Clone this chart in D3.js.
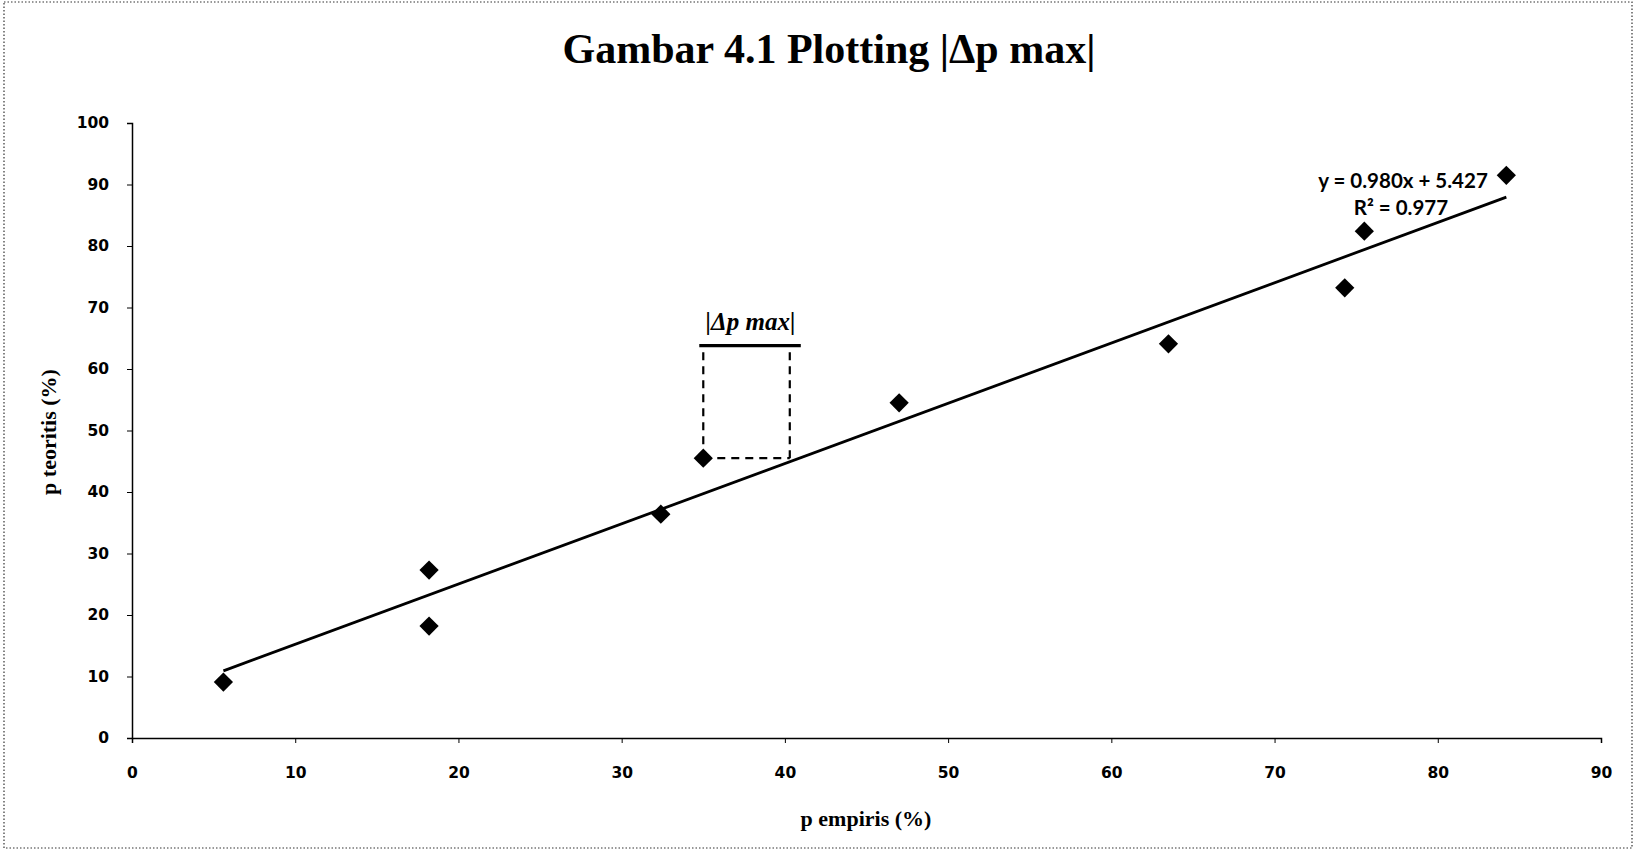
<!DOCTYPE html>
<html>
<head>
<meta charset="utf-8">
<script src="https://cdn.jsdelivr.net/npm/d3@7"></script>
<style>
  body { margin: 0; background: #fff; }
  svg { display: block; }
</style>
</head>
<body>
<div id="chart"></div>
<script>
// data
var pEmpiris = [5.6, 18.2, 18.2, 32.4, 35.0, 47.0, 63.5, 74.3, 75.5, 84.2];
var pTeoritis = [9.1, 27.3, 18.2, 36.4, 45.5, 54.5, 64.1, 73.2, 82.4, 91.5];
var xTicks = [0, 10, 20, 30, 40, 50, 60, 70, 80, 90];
var yTicks = [0, 10, 20, 30, 40, 50, 60, 70, 80, 90, 100];
var trendSlope = 0.980, trendIntercept = 5.427, rSquared = 0.977;
var deltaX = [35.0, 40.3];     // ends of the |Δp max| bracket
var deltaY = [45.5, 63.8];     // bottom (point) and top of bracket

var width = 1635, height = 852;
var margin = {top: 123, right: 34, bottom: 114, left: 132};

var svg = d3.select("#chart").append("svg")
    .attr("width", width)
    .attr("height", height);

// dotted frame
svg.append("rect")
    .attr("x", 4).attr("y", 2)
    .attr("width", width - 7).attr("height", height - 6)
    .attr("fill", "none")
    .attr("stroke", "#333")
    .attr("stroke-width", 1.2)
    .attr("stroke-dasharray", "1.5,2");

var x = d3.scaleLinear().domain([0, 90]).range([margin.left, width - margin.right]);
var y = d3.scaleLinear().domain([0, 100]).range([height - margin.bottom, margin.top]);

// title
svg.append("text")
    .attr("x", 829).attr("y", 63)
    .attr("text-anchor", "middle")
    .style("font-family", "'Liberation Serif', 'Times New Roman', serif")
    .style("font-weight", "bold")
    .style("font-size", "42px")
    .text("Gambar 4.1 Plotting |\u0394p max|");

// axes
var xAxis = svg.append("g")
    .attr("transform", "translate(0," + y(0) + ")")
    .call(d3.axisBottom(x).tickValues(xTicks).tickSize(5).tickPadding(24));
var yAxis = svg.append("g")
    .attr("transform", "translate(" + x(0) + ",0)")
    .call(d3.axisLeft(y).tickValues(yTicks).tickSize(5).tickPadding(18));

[xAxis, yAxis].forEach(function(g) {
    g.select(".domain").attr("stroke", "#000").attr("stroke-width", 1.5);
    g.selectAll(".tick line").attr("stroke", "#000").attr("stroke-width", 1);
    g.selectAll(".tick text")
        .attr("fill", "#000")
        .style("font-family", "'DejaVu Sans', Verdana, sans-serif")
        .style("font-weight", "bold")
        .style("font-size", "15.5px");
});

// axis titles
svg.append("text")
    .attr("x", 866).attr("y", 826)
    .attr("text-anchor", "middle")
    .style("font-family", "'Liberation Serif', 'Times New Roman', serif")
    .style("font-weight", "bold")
    .style("font-size", "22px")
    .text("p empiris (%)");

svg.append("text")
    .attr("transform", "translate(56," + 432 + ") rotate(-90)")
    .attr("text-anchor", "middle")
    .style("font-family", "'Liberation Serif', 'Times New Roman', serif")
    .style("font-weight", "bold")
    .style("font-size", "22px")
    .text("p teoritis (%)");

// trendline over the data range
var xMin = d3.min(pEmpiris), xMax = d3.max(pEmpiris);
svg.append("line")
    .attr("x1", x(xMin)).attr("y1", y(trendSlope * xMin + trendIntercept))
    .attr("x2", x(xMax)).attr("y2", y(trendSlope * xMax + trendIntercept))
    .attr("stroke", "#000")
    .attr("stroke-width", 2.8);

// |Δp max| bracket
var dash = "8,6";
svg.append("line")
    .attr("x1", x(deltaX[0])).attr("y1", y(deltaY[0]))
    .attr("x2", x(deltaX[0])).attr("y2", y(deltaY[1]))
    .attr("stroke", "#000").attr("stroke-width", 2.2).attr("stroke-dasharray", dash);
svg.append("line")
    .attr("x1", x(deltaX[1])).attr("y1", y(deltaY[0]))
    .attr("x2", x(deltaX[1])).attr("y2", y(deltaY[1]))
    .attr("stroke", "#000").attr("stroke-width", 2.2).attr("stroke-dasharray", dash);
svg.append("line")
    .attr("x1", x(deltaX[0])).attr("y1", y(deltaY[0]))
    .attr("x2", x(deltaX[1])).attr("y2", y(deltaY[0]))
    .attr("stroke", "#000").attr("stroke-width", 2.2).attr("stroke-dasharray", dash);
svg.append("line")
    .attr("x1", x(deltaX[0]) - 4).attr("y1", y(deltaY[1]))
    .attr("x2", x(deltaX[1]) + 11).attr("y2", y(deltaY[1]))
    .attr("stroke", "#000").attr("stroke-width", 3.2);
svg.append("text")
    .attr("x", (x(deltaX[0]) + x(deltaX[1])) / 2 + 4)
    .attr("y", y(deltaY[1]) - 16)
    .attr("text-anchor", "middle")
    .style("font-family", "'Liberation Serif', 'Times New Roman', serif")
    .style("font-style", "italic")
    .style("font-weight", "bold")
    .style("font-size", "25px")
    .text("|\u0394p max|");

// points
var pts = pEmpiris.map(function(d, i) { return {x: d, y: pTeoritis[i]}; });
svg.selectAll(".pt")
    .data(pts)
    .enter().append("path")
    .attr("class", "pt")
    .attr("d", d3.symbol(d3.symbolSquare, 185))
    .attr("transform", function(d) { return "translate(" + x(d.x) + "," + y(d.y) + ") rotate(45)"; })
    .attr("fill", "#000");

// trendline label
var eqFont = "Lato, 'Open Sans', sans-serif";
svg.append("text")
    .attr("x", 1403).attr("y", 188)
    .attr("text-anchor", "middle")
    .style("font-family", eqFont)
    .style("font-weight", "bold")
    .style("font-size", "20.5px")
    .text("y = " + trendSlope.toFixed(3) + "x + " + trendIntercept.toFixed(3));
svg.append("text")
    .attr("x", 1401).attr("y", 215)
    .attr("text-anchor", "middle")
    .style("font-family", eqFont)
    .style("font-weight", "bold")
    .style("font-size", "20.5px")
    .text("R\u00b2 = " + rSquared.toFixed(3));
</script>
</body>
</html>
